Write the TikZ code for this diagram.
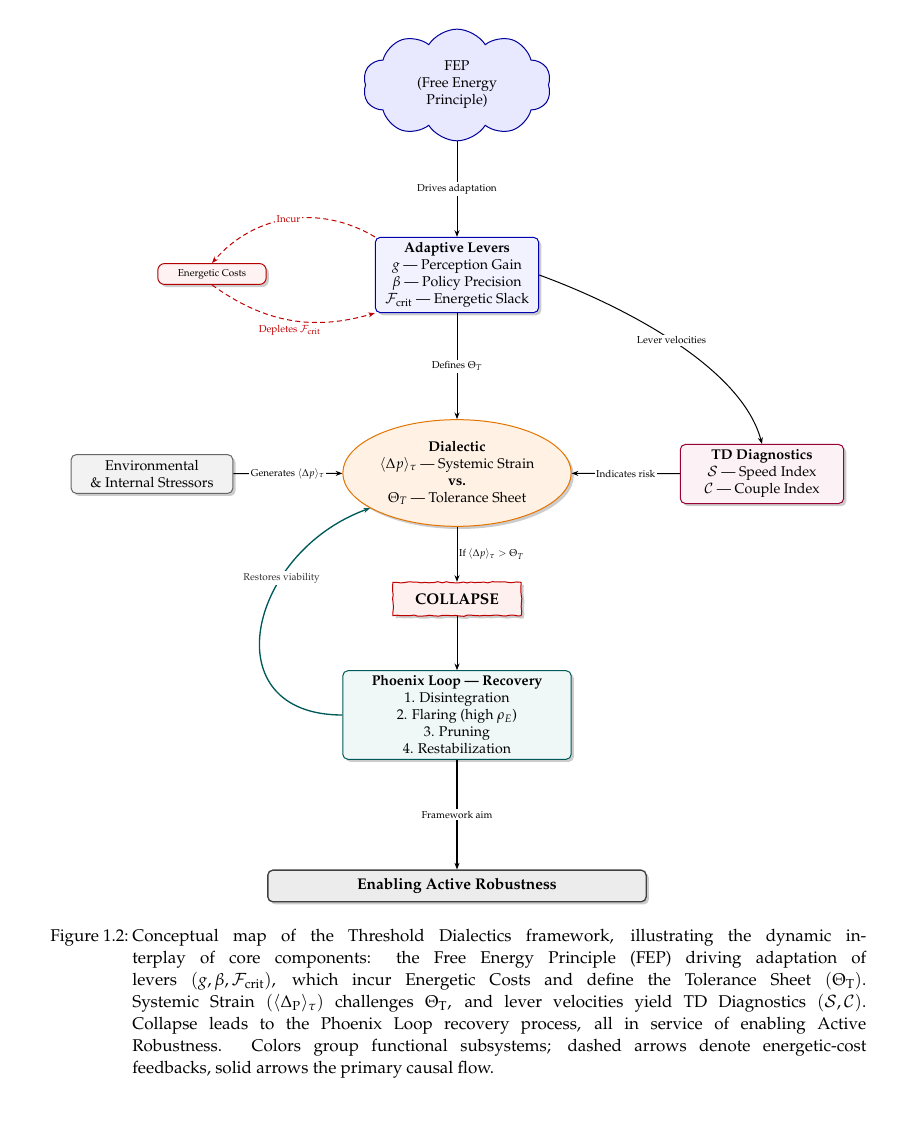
\documentclass[tikz,border=0pt]{standalone}
\usepackage[T1]{fontenc}
\usepackage{mathpazo}
\usepackage{amsmath}
\usepackage{tikz}
\usetikzlibrary{arrows.meta,shapes.geometric,shapes.symbols,shadows,decorations.pathmorphing}

\tikzset{
	nodetext/.style={align=center, font=\fontsize{8.5}{10.2}\selectfont},
	softshadow/.style={drop shadow={opacity=0.4, shadow xshift=1.6pt, shadow yshift=-1.6pt}},
	fepcloud/.style={nodetext, cloud, cloud puffs=10, cloud puff arc=115, aspect=1.7, draw=blue!60!black, fill=blue!9, semithick, minimum width=113pt, minimum height=67pt},
	leverbox/.style={nodetext, rectangle, rounded corners=3pt, draw=blue!70!black, fill=blue!5, semithick, inner sep=3pt, minimum width=98pt, softshadow},
	costbox/.style={rectangle, rounded corners=4pt, draw=red!70!black, fill=red!5, semithick, font=\fontsize{6}{7}\selectfont, minimum width=65pt, minimum height=11.4pt, softshadow},
	dialnode/.style={nodetext, ellipse, draw=orange!90!black, fill=orange!10, semithick, minimum width=137pt, minimum height=64pt, inner sep=0pt, softshadow},
	stressbox/.style={nodetext, rectangle, rounded corners=3pt, draw=gray!80!black, fill=gray!10, semithick, minimum width=97pt, minimum height=21.6pt, softshadow},
	diagbox/.style={nodetext, rectangle, rounded corners=3pt, draw=purple!80!black, fill=purple!5, semithick, minimum width=98pt, minimum height=35pt, softshadow},
	collapsebox/.style={rectangle, draw=red!75!black, fill=red!6, semithick, font=\fontsize{9.3}{11}\selectfont\bfseries, minimum width=77pt, minimum height=20pt, decorate, decoration={random steps, segment length=2.5pt, amplitude=0.4pt}, softshadow},
	phoenixbox/.style={nodetext, rectangle, rounded corners=3pt, draw=teal!70!black, fill=teal!6, semithick, minimum width=137pt, inner sep=3pt, softshadow},
	aimbox/.style={rectangle, rounded corners=3pt, draw=black!75, fill=gray!15, thick, font=\fontsize{9.3}{11}\selectfont\bfseries, minimum width=227pt, minimum height=19pt, softshadow},
	flow/.style={-{Stealth[length=4pt,width=3pt]}, semithick},
	costflow/.style={-{Stealth[length=4pt,width=3pt]}, semithick, red!75!black, dash pattern=on 3pt off 2pt},
	elabel/.style={font=\fontsize{6}{7}\selectfont, fill=white, inner sep=1pt},
	captext/.style={inner sep=0pt, font=\fontsize{10.2}{13.2}\selectfont},
}

\begin{document}
\begin{tikzpicture}[x=0.6pt, y=0.6pt]
	% Canvas
	\useasboundingbox (0,0) rectangle (904,1123);

	% Main nodes
	\node[fepcloud] (fep) at (457,1038) {FEP\\(Free Energy\\Principle)};
	\node[leverbox] (levers) at (457,848) {\textbf{Adaptive Levers}\\$g$ --- Perception Gain\\$\beta$ --- Policy Precision\\$\mathcal{F}_{\text{crit}}$ --- Energetic Slack};
	\node[costbox] (costs) at (212,849) {Energetic Costs};
	\node[dialnode] (dial) at (457,650) {\textbf{Dialectic}\\$\langle\Delta p\rangle_\tau$ --- Systemic Strain\\\textbf{vs.}\\$\Theta_T$ --- Tolerance Sheet};
	\node[stressbox] (stress) at (152,649) {Environmental\\\& Internal Stressors};
	\node[diagbox] (diag) at (762,649) {\textbf{TD Diagnostics}\\$\mathcal{S}$ --- Speed Index\\$\mathcal{C}$ --- Couple Index};
	\node[collapsebox] (collapse) at (457,524) {COLLAPSE};
	\node[phoenixbox] (phoenix) at (457,408) {\textbf{Phoenix Loop --- Recovery}\\1. Disintegration\\2. Flaring (high $\rho_E$)\\3. Pruning\\4. Restabilization};
	\node[aimbox] (aim) at (457,237) {Enabling Active Robustness};

	% Primary causal flow
	\draw[flow] (fep) -- node[elabel] {Drives adaptation} (levers);
	\draw[flow] (levers) -- node[elabel] {Defines $\Theta_T$} (dial);
	\draw[flow] (levers.east) to[out=-20, in=105, looseness=0.75] node[elabel] {Lever velocities} (diag.north);
	\draw[flow] (stress) -- node[elabel] {Generates $\langle\Delta p\rangle_\tau$} (dial);
	\draw[flow] (diag) -- node[elabel] {Indicates risk} (dial);
	\draw[flow] (dial) -- node[elabel, right, fill=none] {If $\langle\Delta p\rangle_\tau > \Theta_T$} (collapse);
	\draw[flow] (collapse) -- (phoenix);
	\draw[flow, thick] (phoenix) -- node[elabel] {Framework aim} (aim);

	% Recovery loop
	\draw[flow, thick, teal!70!black] (phoenix.west) to[out=180, in=200, looseness=1.6] node[elabel, pos=0.68, text=black!80] {Restores viability} (dial.202);

	% Energetic-cost feedbacks
	\draw[costflow] (levers.north west) to[bend right=40] node[elabel, text=red!75!black] {Incur} (costs.north);
	\draw[costflow] (costs.south) to[bend right=26] node[elabel, below=2pt, fill=none, text=red!75!black] {Depletes $\mathcal{F}_{\text{crit}}$} (levers.south west);

	% Caption
	\node[captext, anchor=north west] (figlabel) at (50,194) {Figure 1.2:};
	\node[captext, anchor=north west, text width=440.4pt, align=justify] (caption) at (132,194) {%
		Conceptual map of the Threshold Dialectics framework, illustrating the dynamic in-\linebreak
		terplay of core components: the Free Energy Principle (FEP) driving adaptation of\linebreak
		levers $(g,\beta,\mathcal{F}_{\text{crit}})$, which incur Energetic Costs and define the Tolerance Sheet $(\Theta_{\mathrm{T}})$.\linebreak
		Systemic Strain $(\langle\Delta_{\mathrm{P}}\rangle_{\tau})$ challenges $\Theta_{\mathrm{T}}$, and lever velocities yield TD Diagnostics $(\mathcal{S},\mathcal{C})$.\linebreak
		Collapse leads to the Phoenix Loop recovery process, all in service of enabling Active\linebreak
		Robustness. Colors group functional subsystems; dashed arrows denote energetic-cost\linebreak
		feedbacks, solid arrows the primary causal flow.};
\end{tikzpicture}
\end{document}
